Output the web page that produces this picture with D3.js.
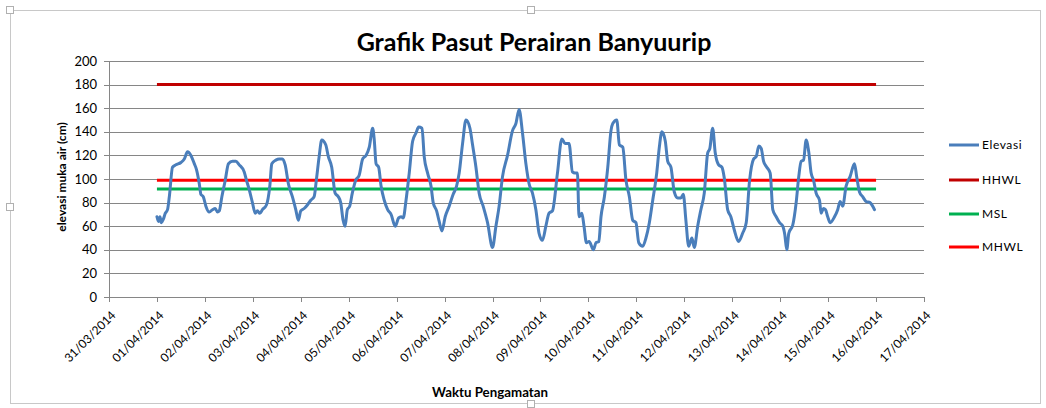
<!DOCTYPE html>
<html lang="id">
<head>
<meta charset="utf-8">
<title>Grafik Pasut Perairan Banyuurip</title>
<script src="https://d3js.org/d3.v7.min.js"></script>
<style>
body { margin: 0; background: #fff; }
text { font-family: Lato, "Open Sans", sans-serif; fill: #000; }
.axis path, .axis line { stroke: #868686; shape-rendering: crispEdges; }
.grid line { stroke: #868686; shape-rendering: crispEdges; }
</style>
</head>
<body>
<div id="chart"></div>
<script>
// jam sejak 01/04/2014 00:00, elevasi muka air (cm)
var jam = [0,0.8,1.5,2.2,3.2,4.2,5.3,6.2,7.8,9.5,12,13.7,15.3,17,18.7,19.8,21.2,22,23.2,24.5,
  26.2,27.8,29.2,30.3,31.2,32.5,34.2,35.8,37.8,39.5,41.2,43.7,44.8,46.2,47.8,49.2,50.3,51.5,52.8,54.8,
  56.5,57.5,59.5,61.2,62.8,64.2,65.8,67.8,69.5,70.8,72,73.7,75.3,77,78.7,79.8,81.2,82.5,84.5,85.8,
  87.5,89.2,90.8,92,93.2,94.2,95.3,96.5,97.8,99.5,101.2,103,104.7,106.3,108,108.8,109.7,111,112.2,113.8,
  115.5,117.2,119.3,121,122.2,123.3,124.7,126.3,128,129.7,131,132.7,133.8,135.5,137.2,138.3,140,141.3,142.7,144.3,
  146.3,148.3,150,151.3,153,154.7,156.7,158,159.7,161.3,163.3,165.5,168,169.7,171.3,173,175.5,178,179.7,181.3,
  183,184.7,186.3,188,189.7,191.3,193,194.7,196.3,198,200.5,202.7,204.3,206.3,208,209.3,210.5,211.3,212.7,213.8,
  215,216.3,216.8,218.5,219.8,221.2,222.3,224,225.7,227.3,228.2,230.2,231.5,233.2,234.8,236.5,238.2,239.8,241.2,243.2,
  244.8,246.5,248.2,250.2,251.5,252.8,254.5,255.7,257.3,259,260.7,262.3,263.5,264.8,266.2,267.8,269,270.7,272.3,274,
  275.7,276.8,278.2,279.5,281.2,282.8,284,285.7,287.3,289,291.2,293.2,295,296.7,298.7,300,301.3,302.5,303.7,305.3,
  307,308.3,310,311.7,313.3,314.3,315.3,316.3,318.3,320,321.3,322.5,323.7,325,326.3,327.5,328.7,330,331.7,332.5,
  333.7,334.7,335.8,337,339.2,340.8,342,343.3,345,347,349.2,350.3,351.7,353.3,355,357,359.2];
var elevasi = [68,64,68,63,66,71,74,85,110,112,114,117,123,120,113,108,96,87,85,77,
  72,74,75,72,73,85,99,113,115,115,112,106,99,91,80,71,73,71,74,78,
  94,113,116,117,117,112,96,85,74,65,73,75,78,82,85,99,119,133,129,119,
  110,88,85,80,65,60,74,77,88,99,103,117,120,127,143,133,113,110,94,82,
  74,70,60,67,68,67,82,105,132,139,144,143,119,105,94,80,73,64,56,68,
  77,87,94,105,130,150,143,129,110,88,77,63,42,60,77,102,120,141,147,159,
  139,113,96,88,74,54,48,60,71,73,105,134,130,130,106,105,105,68,71,60,
  46,47,46,40,46,47,68,85,110,141,147,150,129,127,99,85,65,63,46,43,
  50,63,82,105,127,140,132,115,110,89,84,84,87,65,43,50,42,60,74,88,
  122,126,143,122,112,110,101,74,68,57,47,54,63,99,117,119,128,126,115,110,
  105,74,68,63,60,53,40,54,61,80,102,115,116,133,123,105,99,88,82,71,
  75,74,68,63,68,74,81,77,94,102,113,102,89,85,81,80,74];

// garis acuan (cm)
var hhwl = 180;
var mhwl = 99;
var msl = 91.5;
var jamAcuan = [0, 360];

var yTicks = [0, 20, 40, 60, 80, 100, 120, 140, 160, 180, 200];
var seriNama = ["Elevasi", "HHWL", "MSL", "MHWL"];

var warna = {Elevasi: "#4A7EBB", HHWL: "#C00000", MSL: "#00B050", MHWL: "#FF0000"};

var w = 1046, h = 408;
var plot = {left: 109, right: 924, top: 61, bottom: 297};

var svg = d3.select("#chart").append("svg")
    .attr("width", w)
    .attr("height", h);

// bingkai chart
svg.append("rect")
    .attr("x", 10.5).attr("y", 10.5)
    .attr("width", 1030).attr("height", 393)
    .attr("fill", "none")
    .attr("stroke", "#c8c8c8");

[[10, 10], [531, 10], [10, 207], [531, 404]].forEach(function (p) {
  svg.append("rect")
      .attr("x", p[0] - 3.5).attr("y", p[1] - 3.5)
      .attr("width", 7).attr("height", 7)
      .attr("fill", "#fff").attr("stroke", "#b0b0b0");
});

var mulai = Date.UTC(2014, 3, 1);
function waktu(j) { return new Date(mulai + j * 3600000); }

var xScale = d3.scaleUtc()
    .domain([new Date(Date.UTC(2014, 2, 31)), new Date(Date.UTC(2014, 3, 17))])
    .range([plot.left, plot.right]);

var yScale = d3.scaleLinear()
    .domain([0, 200])
    .range([plot.bottom, plot.top]);

// gridlines
svg.append("g")
    .attr("class", "grid")
    .selectAll("line")
    .data(yTicks.slice(1))
    .enter().append("line")
    .attr("x1", plot.left).attr("x2", plot.right)
    .attr("y1", function (d) { return Math.round(yScale(d)) + 0.5; })
    .attr("y2", function (d) { return Math.round(yScale(d)) + 0.5; });

// sumbu y
var yAxis = svg.append("g")
    .attr("class", "axis")
    .attr("transform", "translate(" + plot.left + ",0)")
    .call(d3.axisLeft(yScale).tickValues(yTicks).tickSize(5).tickPadding(7).tickSizeOuter(0));
yAxis.selectAll("text").style("font-size", "13px").style("fill", "#000");

// sumbu x
var hari = d3.utcDay.range(xScale.domain()[0], d3.utcDay.offset(xScale.domain()[1], 1));
var xAxis = svg.append("g")
    .attr("class", "axis")
    .attr("transform", "translate(0," + plot.bottom + ")")
    .call(d3.axisBottom(xScale).tickValues(hari).tickSize(5).tickSizeOuter(0)
      .tickFormat(d3.utcFormat("%d/%m/%Y")));
xAxis.selectAll("text")
    .style("font-size", "12px")
    .style("fill", "#000")
    .style("text-anchor", "end")
    .attr("x", 0).attr("y", 0).attr("dy", "0.35em")
    .attr("transform", "translate(4,16) rotate(-45)");

// garis acuan
function garisAcuan(nilai, nama) {
  svg.append("path")
      .datum(jamAcuan)
      .attr("fill", "none")
      .attr("stroke", warna[nama])
      .attr("stroke-width", 3)
      .attr("d", d3.line()
        .x(function (d) { return xScale(waktu(d)); })
        .y(function () { return yScale(nilai); }));
}
garisAcuan(msl, "MSL");
garisAcuan(mhwl, "MHWL");
garisAcuan(hhwl, "HHWL");

// elevasi
svg.append("path")
    .datum(d3.range(jam.length))
    .attr("fill", "none")
    .attr("stroke", warna.Elevasi)
    .attr("stroke-width", 3)
    .attr("stroke-linejoin", "round")
    .attr("stroke-linecap", "round")
    .attr("d", d3.line()
      .curve(d3.curveMonotoneX)
      .x(function (i) { return xScale(waktu(jam[i])); })
      .y(function (i) { return yScale(elevasi[i]); }));

// judul
svg.append("text")
    .attr("x", 534).attr("y", 51)
    .attr("text-anchor", "middle")
    .style("font-size", "25px")
    .style("font-weight", "bold")
    .text("Grafik Pasut Perairan Banyuurip");

svg.append("text")
    .attr("transform", "translate(66,177) rotate(-90)")
    .attr("text-anchor", "middle")
    .style("font-size", "12px")
    .style("font-weight", "bold")
    .text("elevasi muka air (cm)");

svg.append("text")
    .attr("x", 490).attr("y", 397)
    .attr("text-anchor", "middle")
    .style("font-size", "13.3px")
    .style("font-weight", "bold")
    .text("Waktu Pengamatan");

// legenda
var legenda = svg.append("g")
    .selectAll("g")
    .data(seriNama)
    .enter().append("g")
    .attr("transform", function (d, i) { return "translate(949," + [145, 180, 214, 247][i] + ")"; });

legenda.append("line")
    .attr("x1", 0).attr("x2", 30)
    .attr("stroke", function (d) { return warna[d]; })
    .attr("stroke-width", 3);

legenda.append("text")
    .attr("x", 33).attr("dy", "0.35em")
    .style("font-size", "12px")
    .style("letter-spacing", "0.6px")
    .text(function (d) { return d; });
</script>
</body>
</html>
